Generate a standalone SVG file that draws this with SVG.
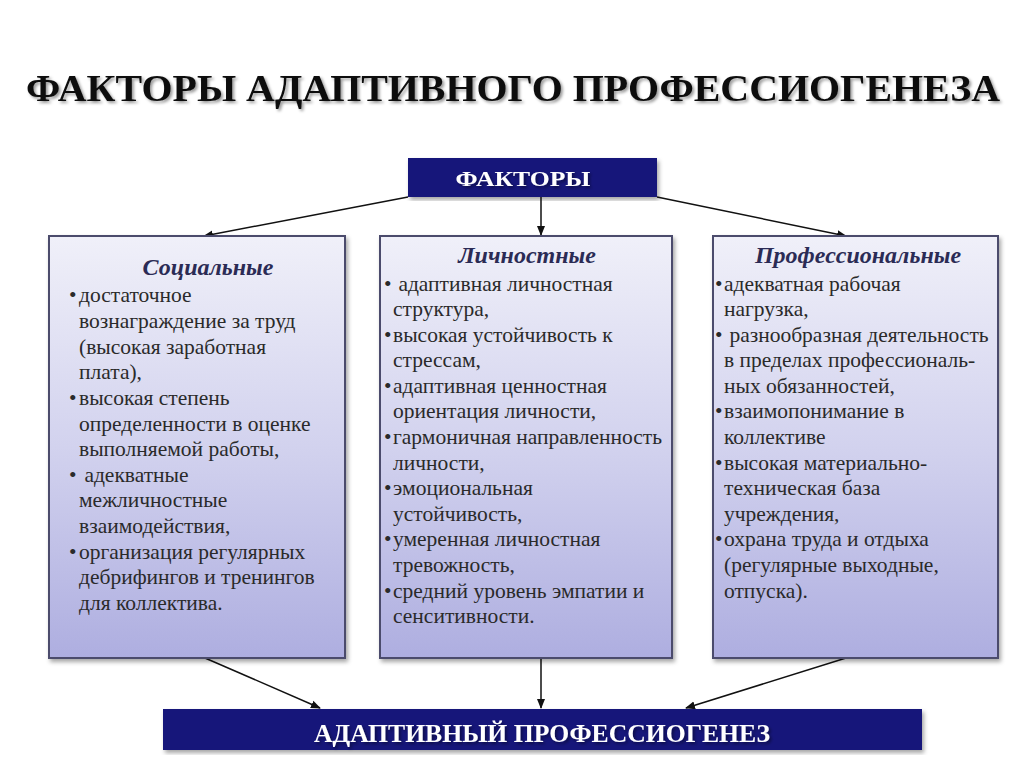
<svg xmlns="http://www.w3.org/2000/svg" width="1024" height="767" viewBox="0 0 1024 767">
<defs>
<linearGradient id="boxg" x1="0" y1="0" x2="0" y2="1">
<stop offset="0" stop-color="#f0f0f9"/>
<stop offset="0.5" stop-color="#d2d2ee"/>
<stop offset="1" stop-color="#aeaee0"/>
</linearGradient>
<marker id="arr" markerWidth="10" markerHeight="10" refX="9" refY="5" orient="auto" markerUnits="userSpaceOnUse">
<path d="M0,1 L10,5 L0,9 z" fill="#111"/>
</marker>
<filter id="sh" x="-5%" y="-5%" width="110%" height="115%">
<feDropShadow dx="2" dy="3" stdDeviation="2" flood-color="#000" flood-opacity="0.35"/>
</filter>
<filter id="tsh" x="-5%" y="-30%" width="110%" height="170%">
<feDropShadow dx="2" dy="2" stdDeviation="1.5" flood-color="#000" flood-opacity="0.4"/>
</filter>
</defs>
<style>
.title{font-family:"Liberation Serif","Times New Roman",serif;font-weight:bold;fill:#111}
.dark{fill:#17177a}
.wt{font-family:"Liberation Serif","Times New Roman",serif;font-weight:bold;fill:#fff;text-anchor:middle}
.box{fill:url(#boxg);stroke:#4c4c6c;stroke-width:2}
.hd{font-family:"Liberation Serif","Times New Roman",serif;font-weight:bold;font-style:italic;font-size:24px;fill:#2b2b55;text-anchor:middle}
.tx{font-family:"Liberation Serif","Times New Roman",serif;font-size:21.5px;fill:#2a2a2a}
.con{stroke:#111;stroke-width:1.5;fill:none;marker-end:url(#arr)}
</style>
<rect width="1024" height="767" fill="#fff"/>
<text class="title" x="26" y="101" font-size="37" textLength="974" lengthAdjust="spacingAndGlyphs" filter="url(#tsh)">ФАКТОРЫ АДАПТИВНОГО ПРОФЕССИОГЕНЕЗА</text>

<g id="factors">
<rect class="dark" x="408" y="158" width="249" height="39" filter="url(#sh)"/>
<text class="wt" x="523" y="186" font-size="21" textLength="135" lengthAdjust="spacingAndGlyphs" filter="url(#tsh)">ФАКТОРЫ</text>
</g>

<g id="connectors">
<line class="con" x1="408" y1="197" x2="204" y2="236"/>
<line class="con" x1="541" y1="197" x2="541" y2="235"/>
<line class="con" x1="657" y1="197" x2="846" y2="236"/>
<line class="con" x1="205" y1="658" x2="320" y2="708"/>
<line class="con" x1="541" y1="658" x2="541" y2="708"/>
<line class="con" x1="846" y1="658" x2="686" y2="708"/>
</g>

<g id="social">
<rect class="box" x="49" y="236" width="296" height="422" filter="url(#sh)"/>
<text class="hd" x="208" y="275">Социальные</text>
<g class="tx">
<text x="69" y="302">•<tspan x="79">достаточное</tspan></text>
<text x="79" y="328">вознаграждение за труд</text>
<text x="79" y="354">(высокая заработная</text>
<text x="79" y="379">плата),</text>
<text x="69" y="405">•<tspan x="79">высокая степень</tspan></text>
<text x="79" y="431">определенности в оценке</text>
<text x="79" y="456">выполняемой работы,</text>
<text x="69" y="482">•<tspan x="79"> адекватные</tspan></text>
<text x="79" y="507">межличностные</text>
<text x="79" y="533">взаимодействия,</text>
<text x="69" y="559">•<tspan x="79">организация регулярных</tspan></text>
<text x="79" y="584">дебрифингов и тренингов</text>
<text x="79" y="610">для коллектива.</text>
</g>
</g>

<g id="personal">
<rect class="box" x="380" y="236" width="292" height="422" filter="url(#sh)"/>
<text class="hd" x="527" y="263">Личностные</text>
<g class="tx">
<text x="384" y="291">•<tspan x="393"> адаптивная личностная</tspan></text>
<text x="393" y="316">структура,</text>
<text x="384" y="342">•<tspan x="393">высокая устойчивость к</tspan></text>
<text x="393" y="367">стрессам,</text>
<text x="384" y="393">•<tspan x="393">адаптивная ценностная</tspan></text>
<text x="393" y="418">ориентация личности,</text>
<text x="384" y="444">•<tspan x="393">гармоничная направленность</tspan></text>
<text x="393" y="470">личности,</text>
<text x="384" y="495">•<tspan x="393">эмоциональная</tspan></text>
<text x="393" y="521">устойчивость,</text>
<text x="384" y="546">•<tspan x="393">умеренная личностная</tspan></text>
<text x="393" y="572">тревожность,</text>
<text x="384" y="598">•<tspan x="393">средний уровень эмпатии и</tspan></text>
<text x="393" y="623">сенситивности.</text>
</g>
</g>

<g id="professional">
<rect class="box" x="713" y="236" width="285" height="422" filter="url(#sh)"/>
<text class="hd" x="858" y="263">Профессиональные</text>
<g class="tx">
<text x="715" y="291">•<tspan x="724">адекватная  рабочая</tspan></text>
<text x="724" y="316">нагрузка,</text>
<text x="715" y="342">•<tspan x="724"> разнообразная деятельность</tspan></text>
<text x="724" y="367">в пределах  профессиональ-</text>
<text x="724" y="393">ных обязанностей,</text>
<text x="715" y="418">•<tspan x="724">взаимопонимание в</tspan></text>
<text x="724" y="444">коллективе</text>
<text x="715" y="470">•<tspan x="724">высокая материально-</tspan></text>
<text x="724" y="495">техническая база</text>
<text x="724" y="521">учреждения,</text>
<text x="715" y="546">•<tspan x="724">охрана труда и отдыха</tspan></text>
<text x="724" y="572">(регулярные выходные,</text>
<text x="724" y="598">отпуска).</text>
</g>
</g>

<g id="result">
<rect class="dark" x="163" y="709" width="759" height="41" filter="url(#sh)"/>
<text class="wt" x="542" y="742" font-size="26" textLength="456" lengthAdjust="spacingAndGlyphs" filter="url(#tsh)">АДАПТИВНЫЙ ПРОФЕССИОГЕНЕЗ</text>
</g>
</svg>
